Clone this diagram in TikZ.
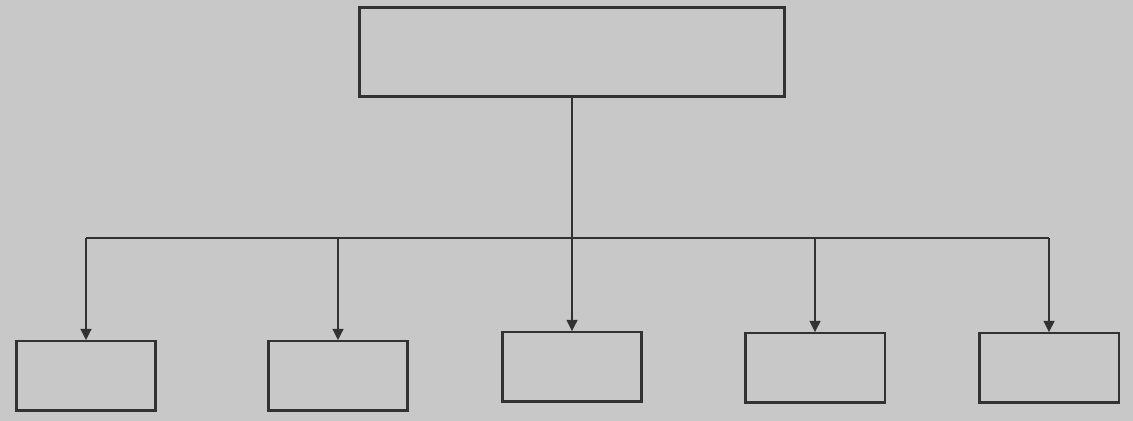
\documentclass[tikz,border=0pt]{standalone}
\usepackage{xcolor}
\usepackage{tikz}
\usetikzlibrary{arrows.meta}
\definecolor{ScanGray}{RGB}{200,200,200}
\definecolor{InkGray}{RGB}{50,50,50}

\begin{document}
\begin{tikzpicture}[x=0.02cm, y=-0.02cm,
          bx/.style={rectangle, draw=InkGray, line width=1.7pt, fill=ScanGray,
                     minimum width=2.8cm, minimum height=1.4cm, inner sep=0pt},
          hd/.style={bx, minimum width=8.52cm, minimum height=1.78cm},
          ln/.style={draw=InkGray, line width=1.4pt},
          arr/.style={ln, -{Triangle[length=6.5pt, width=6pt]}, shorten >=-0.5pt}
        ]
        \fill[ScanGray] (0,0) rectangle (1133,421);
        \node[hd] (top) at (572, 52) {};
        \node[bx] (b1) at (86, 376)  {};
        \node[bx] (b2) at (338, 376) {};
        \node[bx] (b3) at (572, 367) {};
        \node[bx] (b4) at (815, 368) {};
        \node[bx] (b5) at (1049, 368) {};
        \coordinate (bus) at (0, 238);

        \draw[arr] (top.south) -- (b3.north);
        \draw[ln] (b1 |- bus) -- (b5 |- bus);
        \foreach \i in {1,2,4,5}
          \draw[arr] (b\i |- bus) -- (b\i.north);
      \end{tikzpicture}
\end{document}
